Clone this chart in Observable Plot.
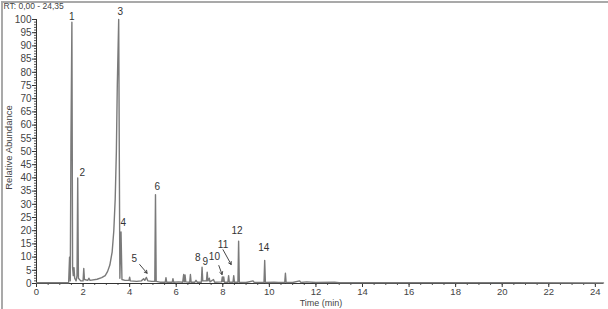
<!DOCTYPE html>
<html>
<head>
<meta charset="utf-8">
<script src="https://cdn.jsdelivr.net/npm/d3@7"></script>
<script src="https://cdn.jsdelivr.net/npm/@observablehq/plot@0.6"></script>
<style>
  html, body { margin: 0; padding: 0; background: #fff; }
  #wrap { position: relative; width: 608px; height: 309px; overflow: hidden; }
  #wrap svg { position: absolute; left: 0; top: 0; overflow: visible; }
  #border { position: absolute; left: 1px; top: 1px; width: 620px; height: 320px;
            border-top: 2px solid #a9a9a9; border-left: 2px solid #a9a9a9; box-sizing: border-box; }
</style>
</head>
<body>
<div id="wrap"><div id="border"></div></div>
<script>
// Chromatogram trace (retention time in min, relative abundance %)
const times = [0, 1.38, 1.42, 1.45, 1.48, 1.52, 1.55, 1.58, 1.61, 1.64, 1.7, 1.74, 1.77, 1.8, 1.9, 2.0, 2.03, 2.06, 2.2, 2.25, 2.3, 2.6, 2.8, 2.95, 3.05, 3.15, 3.25, 3.32, 3.38, 3.43, 3.47, 3.53, 3.58, 3.63, 3.67, 3.8, 3.97, 4.0, 4.03, 4.3, 4.5, 4.6, 4.65, 4.72, 4.78, 4.95, 5.08, 5.11, 5.14, 5.3, 5.53, 5.56, 5.59, 5.83, 5.86, 5.89, 6.1, 6.28, 6.32, 6.35, 6.38, 6.41, 6.58, 6.61, 6.64, 6.8, 6.85, 6.9, 7.08, 7.11, 7.14, 7.3, 7.33, 7.36, 7.42, 7.45, 7.6, 7.65, 7.95, 7.98, 8.01, 8.04, 8.07, 8.22, 8.25, 8.28, 8.44, 8.47, 8.5, 8.65, 8.68, 8.71, 9.0, 9.3, 9.35, 9.77, 9.8, 9.83, 10.2, 10.4, 10.66, 10.69, 10.72, 11.0, 11.3, 11.35, 11.6, 12.0, 12.8, 13.0, 17.4, 24.35];
const abundance = [0.3, 0.3, 10, 1, 54, 99, 6, 3, 6, 2, 1, 3, 40, 2, 1, 1, 5.7, 1.5, 1.2, 2, 1.2, 1.6, 2.2, 3, 4.5, 7, 12, 20, 32, 50, 75, 100, 2, 19.5, 1.5, 1.2, 1.2, 2.4, 1, 0.8, 1, 1.8, 1.2, 2.3, 1, 0.8, 0.8, 33.6, 0.8, 0.5, 0.5, 2.2, 0.5, 0.5, 1.8, 0.5, 0.6, 0.5, 3.4, 0.6, 3.2, 0.6, 0.5, 3.4, 0.5, 0.5, 1.2, 0.5, 0.5, 6.2, 1, 1, 4.3, 1, 2, 0.6, 1.5, 0.5, 0.6, 2.5, 0.8, 2.5, 0.5, 0.5, 3, 0.5, 0.5, 3, 0.5, 0.5, 16, 0.5, 0.4, 1, 0.4, 0.4, 8.7, 0.4, 0.5, 0.4, 0.4, 3.9, 0.4, 0.4, 1, 0.4, 0.6, 0.4, 0.5, 0.3, 0.3, 0.2];

// Peak labels
const peakLabels = ["1", "2", "3", "4", "5", "6", "8", "9", "10", "11", "12", "14"];
const labelTime = [1.52, 1.97, 3.6, 3.73, 4.2, 5.19, 6.93, 7.25, 7.64, 8.01, 8.61, 9.76];
const labelAbund = [101, 42, 103, 23, 9.5, 36.7, 9.8, 8.3, 10, 14.8, 19.8, 13.4];

// Annotation arrows (peaks 5, 10, 11)
const arrowFromT = [4.43, 7.83, 8.01];
const arrowFromA = [7.2, 6.8, 12.8];
const arrowToT = [4.75, 7.97, 8.36];
const arrowToA = [3.9, 3.4, 7.2];

const xTicks = d3.range(0, 25, 2);
const yTicks = d3.range(0, 101, 5);

const trace = times.map((t, i) => ({t, a: abundance[i]}));
const labels = peakLabels.map((s, i) => ({s, t: labelTime[i], a: labelAbund[i]}));
const arrows = arrowFromT.map((t, i) => ({x1: t, y1: arrowFromA[i], x2: arrowToT[i], y2: arrowToA[i]}));

const font = "Liberation Sans, Arial, sans-serif";

const chart = Plot.plot({
  width: 608,
  height: 309,
  marginLeft: 36,
  marginRight: 5,
  marginTop: 19,
  marginBottom: 26,
  style: {fontFamily: font, fontSize: "10px", color: "#444", background: "transparent"},
  x: {domain: [0, 24.35]},
  y: {domain: [0, 100]},
  marks: [
    Plot.axisY({ticks: d3.range(0, 101, 1), tickSize: 2, text: null, label: null, stroke: "#555"}),
    Plot.axisY({ticks: yTicks, tickSize: 4, tickPadding: 1, label: null, stroke: "#333", fill: "#444"}),
    Plot.axisX({ticks: d3.range(0, 24.5, 0.5), tickSize: 2, text: null, label: null, stroke: "#555"}),
    Plot.axisX({ticks: xTicks, tickSize: 4, tickPadding: 1, label: null, stroke: "#333", fill: "#444", fontSize: 9.5}),
    Plot.ruleY([0], {stroke: "#333"}),
    Plot.ruleX([0], {stroke: "#333"}),
    Plot.line(trace, {x: "t", y: "a", stroke: "#7a7a7a", strokeWidth: 1.4}),
    Plot.text(labels, {x: "t", y: "a", text: "s", fill: "#333", fontSize: 10}),
    Plot.arrow(arrows, {x1: "x1", y1: "y1", x2: "x2", y2: "y2", stroke: "#333", strokeWidth: 0.9, headLength: 5}),
    Plot.text(["RT: 0,00 - 24,35"], {frameAnchor: "top-left", dx: -33, dy: -13, textAnchor: "start", lineAnchor: "middle", fill: "#444", fontSize: 8.5}),
    Plot.text(["Relative Abundance"], {frameAnchor: "left", dx: -28, dy: -4, rotate: -90, textAnchor: "middle", fill: "#444", fontSize: 9.5}),
    Plot.text(["Time (min)"], {frameAnchor: "bottom", dx: 1, dy: 20, lineAnchor: "middle", fill: "#444", fontSize: 9})
  ]
});
document.getElementById("wrap").appendChild(chart);
</script>
</body>
</html>
